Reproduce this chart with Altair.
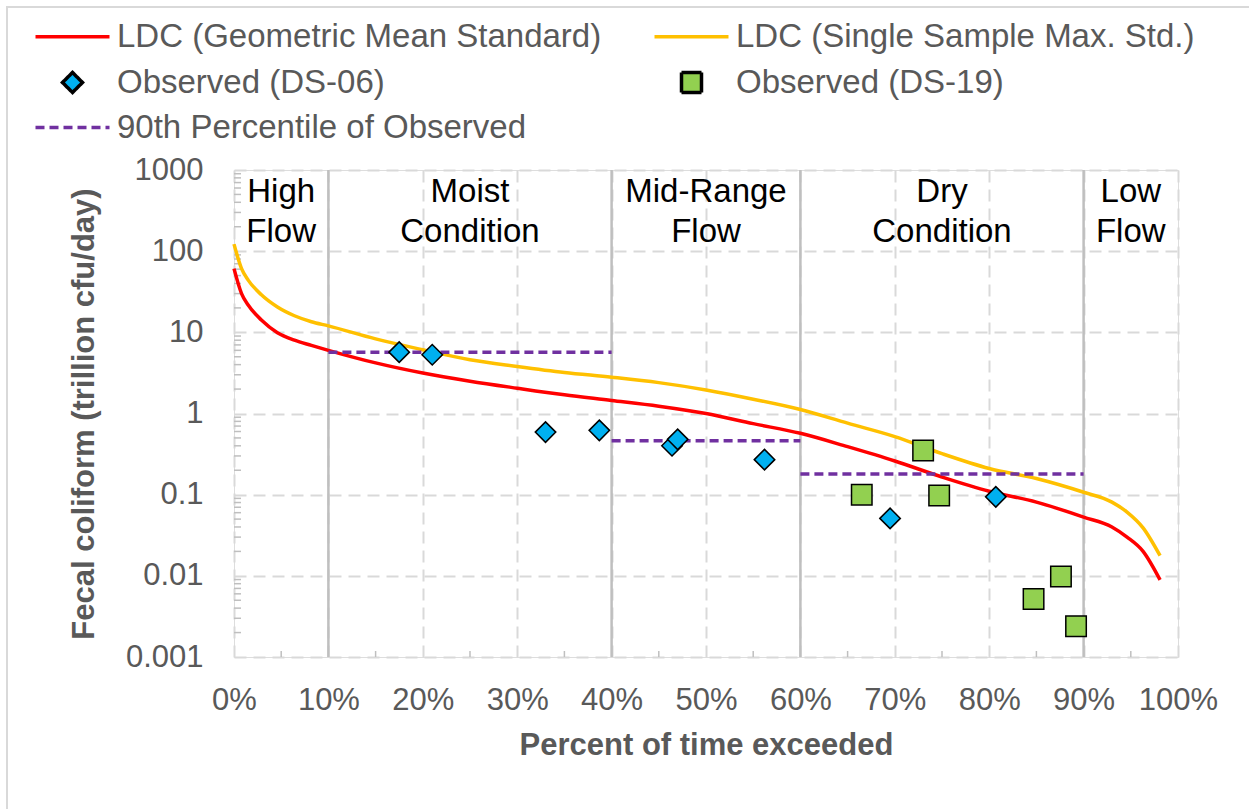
import altair as alt
import pandas as pd

# ---------------- data ----------------
series_names = [
    "LDC (Geometric Mean Standard)",
    "LDC (Single Sample Max. Std.)",
    "Observed (DS-06)",
    "Observed (DS-19)",
    "90th Percentile of Observed",
]

curve_pct = [0, 0.8, 1.5, 2.9, 4.6, 6.4, 8.2, 10, 15, 20, 25, 30, 35, 40, 45, 50,
             55, 60, 65, 70, 75, 80, 85, 90, 93, 94.6, 96.3, 98.1]
ldc_geo = [61, 30, 21.7, 14.2, 9.9, 8.0, 6.9, 6.0, 4.2, 3.15, 2.5, 2.05, 1.7, 1.45,
           1.23, 1.0, 0.75, 0.57, 0.39, 0.26, 0.165, 0.11, 0.081, 0.053, 0.040,
           0.030, 0.020, 0.0089]
ldc_single = [122, 61, 44, 29, 20.5, 16.0, 13.5, 12.0, 8.3, 6.1, 4.6, 3.8, 3.2, 2.8,
              2.4, 1.95, 1.5, 1.12, 0.76, 0.52, 0.32, 0.21, 0.158, 0.107, 0.081,
              0.061, 0.039, 0.0177]

ds06_pct = [17.5, 21.0, 33.0, 38.7, 46.4, 47.0, 56.2, 69.5, 80.7]
ds06_val = [5.7, 5.3, 0.59, 0.62, 0.40, 0.48, 0.27, 0.051, 0.094]

ds19_pct = [66.5, 73.0, 74.7, 84.7, 87.6, 89.2]
ds19_val = [0.10, 0.35, 0.098, 0.0052, 0.0098, 0.0024]

p90_start = [10, 40, 60]
p90_end = [40, 60, 90]
p90_val = [5.7, 0.46, 0.18]

zone_bounds = [10, 40, 60, 90]
zone_center = [5, 25, 50, 75, 95]
zone_line1 = ["High", "Moist", "Mid-Range", "Dry", "Low"]
zone_line2 = ["Flow", "Condition", "Flow", "Condition", "Flow"]

x_ticks = [0, 10, 20, 30, 40, 50, 60, 70, 80, 90, 100]
x_minor = [5, 15, 25, 35, 45, 55, 65, 75, 85, 95]
y_ticks = [0.001, 0.01, 0.1, 1, 10, 100, 1000]
y_minor = [k * d for d in [0.001, 0.01, 0.1, 1, 10, 100] for k in range(2, 10)]

# ---------------- tables ----------------
curves = pd.DataFrame({
    "pct": curve_pct * 2,
    "value": ldc_geo + ldc_single,
    "series": [series_names[0]] * len(curve_pct) + [series_names[1]] * len(curve_pct),
})
points = pd.DataFrame({
    "pct": ds06_pct + ds19_pct,
    "value": ds06_val + ds19_val,
    "series": [series_names[2]] * len(ds06_pct) + [series_names[3]] * len(ds19_pct),
})
p90 = pd.DataFrame({"x1": p90_start, "x2": p90_end, "value": p90_val,
                    "series": [series_names[4]] * 3})
zones = pd.DataFrame({"pct": zone_center,
                      "label": [[a, b] for a, b in zip(zone_line1, zone_line2)]})
bounds = pd.DataFrame({"pct": zone_bounds})
xminor_df = pd.DataFrame({"pct": x_minor})
yminor_df = pd.DataFrame({"value": y_minor})

W, H = 944, 487
GRAY_TXT = "#595959"
FONT = "Liberation Sans"

line_path = "M-3.7,0H3.7"
legend = alt.Legend(
    title=None, orient="none", legendX=-178, legendY=-150, columns=2,
    direction="horizontal",
    columnPadding=45, rowPadding=11, labelFontSize=33, labelColor=GRAY_TXT,
    labelFont=FONT, labelOffset=28, labelLimit=0, symbolSize=400,
    symbolStrokeWidth=3.5, padding=0,
)
stroke_scale = alt.Scale(domain=series_names,
                         range=["#FF0000", "#FFC000", "#000000", "#000000", "#7030A0"])
fill_scale = alt.Scale(domain=series_names,
                       range=["transparent", "transparent", "#00B0F0", "#92D050", "transparent"])
shape_scale = alt.Scale(domain=series_names,
                        range=[line_path, line_path, "diamond", "square", line_path])
dash_scale = alt.Scale(domain=series_names,
                       range=[[1, 0], [1, 0], [1, 0], [1, 0], [9, 5]])

x_scale = alt.Scale(domain=[0, 100], nice=False, zero=False)
y_scale = alt.Scale(type="log", domain=[0.001, 1000], nice=False)

x_axis = alt.Axis(values=x_ticks, labelExpr="datum.value + '%'", ticks=False, domain=False,
                  labelOverlap=False, labelFlush=False,
                  grid=True, gridColor="#D9D9D9", gridDash=[12, 7], gridWidth=2,
                  labelFontSize=31, labelColor=GRAY_TXT, labelFont=FONT, labelPadding=28,
                  title="Percent of time exceeded", titleFontSize=31, titleFont=FONT,
                  titleFontWeight="bold", titleColor=GRAY_TXT, titleY=88,
                  titleBaseline="middle")
y_axis = alt.Axis(values=y_ticks,
                  labelExpr="datum.value >= 1 ? format(datum.value, 'd') : format(datum.value, '.3~f')",
                  ticks=False, domain=False, grid=True, gridColor="#D9D9D9",
                  labelOverlap=False, labelFlush=False,
                  gridDash=[12, 7], gridWidth=2, labelFontSize=31, labelColor=GRAY_TXT,
                  labelFont=FONT, labelPadding=31,
                  title="Fecal coliform (trillion cfu/day)", titleFontSize=31,
                  titleFont=FONT, titleFontWeight="bold", titleColor=GRAY_TXT,
                  titleX=-150, titleY=H / 2, titleBaseline="middle", titleAlign="center",
                  titleAngle=270)

base_x = alt.X("pct:Q", scale=x_scale, axis=x_axis)
base_y = alt.Y("value:Q", scale=y_scale, axis=y_axis)

zone_rules = alt.Chart(bounds).mark_rule(color="#BFBFBF", strokeWidth=2.5).encode(
    x=alt.X("pct:Q", scale=x_scale, axis=x_axis))

xminor_ticks = alt.Chart(xminor_df).mark_rule(color="#BFBFBF", strokeWidth=1.5).encode(
    x=alt.X("pct:Q", scale=x_scale, axis=x_axis), y=alt.value(H), y2=alt.value(H - 6))

yminor_ticks = alt.Chart(yminor_df).mark_rule(color="#BFBFBF", strokeWidth=1.5).encode(
    y=alt.Y("value:Q", scale=y_scale, axis=y_axis), x=alt.value(0), x2=alt.value(7))

lines = alt.Chart(curves).mark_line(strokeWidth=3.5, interpolate="monotone").encode(
    x=base_x, y=base_y,
    stroke=alt.Stroke("series:N", scale=stroke_scale, legend=legend, sort=series_names),
    detail="series:N",
)

p90_rules = alt.Chart(p90).mark_rule(strokeWidth=3.5).encode(
    x=alt.X("x1:Q", scale=x_scale, axis=x_axis), x2="x2:Q",
    y=alt.Y("value:Q", scale=y_scale, axis=y_axis),
    stroke=alt.Stroke("series:N", scale=stroke_scale, legend=legend, sort=series_names),
    strokeDash=alt.StrokeDash("series:N", scale=dash_scale, legend=legend, sort=series_names),
)

pts = alt.Chart(points).mark_point(filled=True, size=420, strokeWidth=1.5, opacity=1).encode(
    x=base_x, y=base_y,
    fill=alt.Fill("series:N", scale=fill_scale, legend=legend, sort=series_names),
    stroke=alt.Stroke("series:N", scale=stroke_scale, legend=legend, sort=series_names),
    shape=alt.Shape("series:N", scale=shape_scale, legend=legend, sort=series_names),
)

zone_text = alt.Chart(zones).mark_text(fontSize=33, color="black", font=FONT,
                                       lineHeight=40, baseline="middle", align="center").encode(
    x=alt.X("pct:Q", scale=x_scale, axis=x_axis), y=alt.value(22), text="label")

frame = alt.Chart(bounds).mark_rect(fill="transparent", stroke="#D9D9D9", strokeWidth=2).encode(
    x=alt.value(-227), x2=alt.value(1249 - 234 + 20), y=alt.value(-163), y2=alt.value(809 - 170 + 20))

chart = alt.layer(
    frame, zone_rules, xminor_ticks, yminor_ticks, lines, p90_rules, pts, zone_text
).properties(
    width=W, height=H, autosize="none",
    padding={"left": 234, "top": 170, "right": 71, "bottom": 152},
).configure_view(stroke="#BFBFBF", strokeWidth=3).configure(background="white")

chart.save("out.html", embed_options={"renderer": "svg", "actions": False})
